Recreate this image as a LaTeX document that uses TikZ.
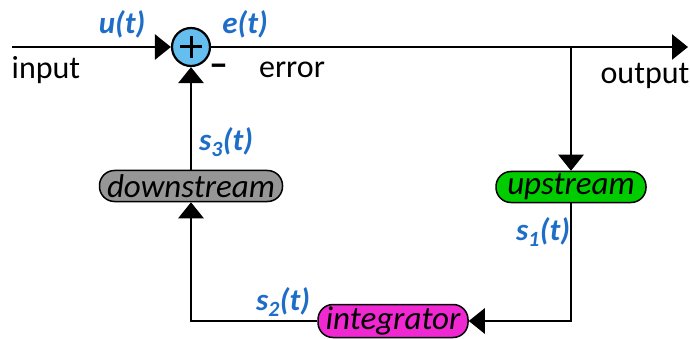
\documentclass[tikz,border=0pt]{standalone}
\usepackage{fontspec}
\setmainfont{Carlito}
\usetikzlibrary{arrows.meta}
\definecolor{lblue}{RGB}{30,110,200}
\definecolor{sumfill}{RGB}{100,190,240}
\definecolor{boxgray}{RGB}{150,150,150}
\definecolor{boxgreen}{RGB}{0,204,0}
\definecolor{boxmag}{RGB}{240,40,210}
\tikzset{
  wire/.style={line width=2.8pt, line join=miter},
  arr/.style={wire, -{Triangle[length=16pt,width=25pt]}},
  blk/.style={draw, line width=1.5pt, rounded corners=15pt, minimum height=31pt, inner sep=0pt, font=\fontsize{33}{34}\selectfont\itshape},
  sig/.style={text=lblue, font=\fontsize{31}{32}\selectfont\bfseries\itshape},
  lab/.style={font=\fontsize{32}{33}\selectfont},
}
\begin{document}
\begin{tikzpicture}[x=1pt,y=-1pt]
\useasboundingbox (0,0) rectangle (690,339);
\node[draw, circle, line width=2.2pt, fill=sumfill, minimum size=38pt, inner sep=0pt,
  path picture={\draw[line width=3pt] ([xshift=-11pt]path picture bounding box.center) -- ([xshift=11pt]path picture bounding box.center);
                \draw[line width=3pt] ([yshift=-11pt]path picture bounding box.center) -- ([yshift=11pt]path picture bounding box.center);}]
  (sum) at (191,47) {};
\coordinate (in) at (12,47);
\coordinate (out) at (688,47);
\node[blk, fill=boxgreen, minimum width=150pt] (up) at (571,187) {upstream};
\node[blk, fill=boxmag, minimum width=150pt, minimum height=33pt] (integ) at (393,321) {integrator};
\node[blk, fill=boxgray, minimum width=183pt] (down) at (191,186) {downstream};
\coordinate (branch) at (up.north |- sum);

\draw[arr] (in) -- (sum.west);
\draw[arr] (sum.east) -- (out);
\draw[arr] (branch) -- (up.north);
\draw[arr] (up.south) |- (integ.east);
\draw[arr] (integ.west) -| (down.south);
\draw[arr] (down.north) -- (sum.south);

\node[sig] (u) at (122,24) {u(t)};
\node[sig] (e) at (245,24) {e(t)};
\node[lab] (input) at (46,70) {input};
\node[font=\fontsize{38}{38}\selectfont\bfseries] (minus) at (219,70) {\textendash};
\node[lab] (error) at (292,70) {error};
\node[lab] (output) at (645,76) {output};
\node[sig] (s3) at (226,142) {s\textsubscript{3}(t)};
\node[sig] (s1) at (543,232) {s\textsubscript{1}(t)};
\node[sig] (s2) at (283,302) {s\textsubscript{2}(t)};
\end{tikzpicture}
\end{document}
